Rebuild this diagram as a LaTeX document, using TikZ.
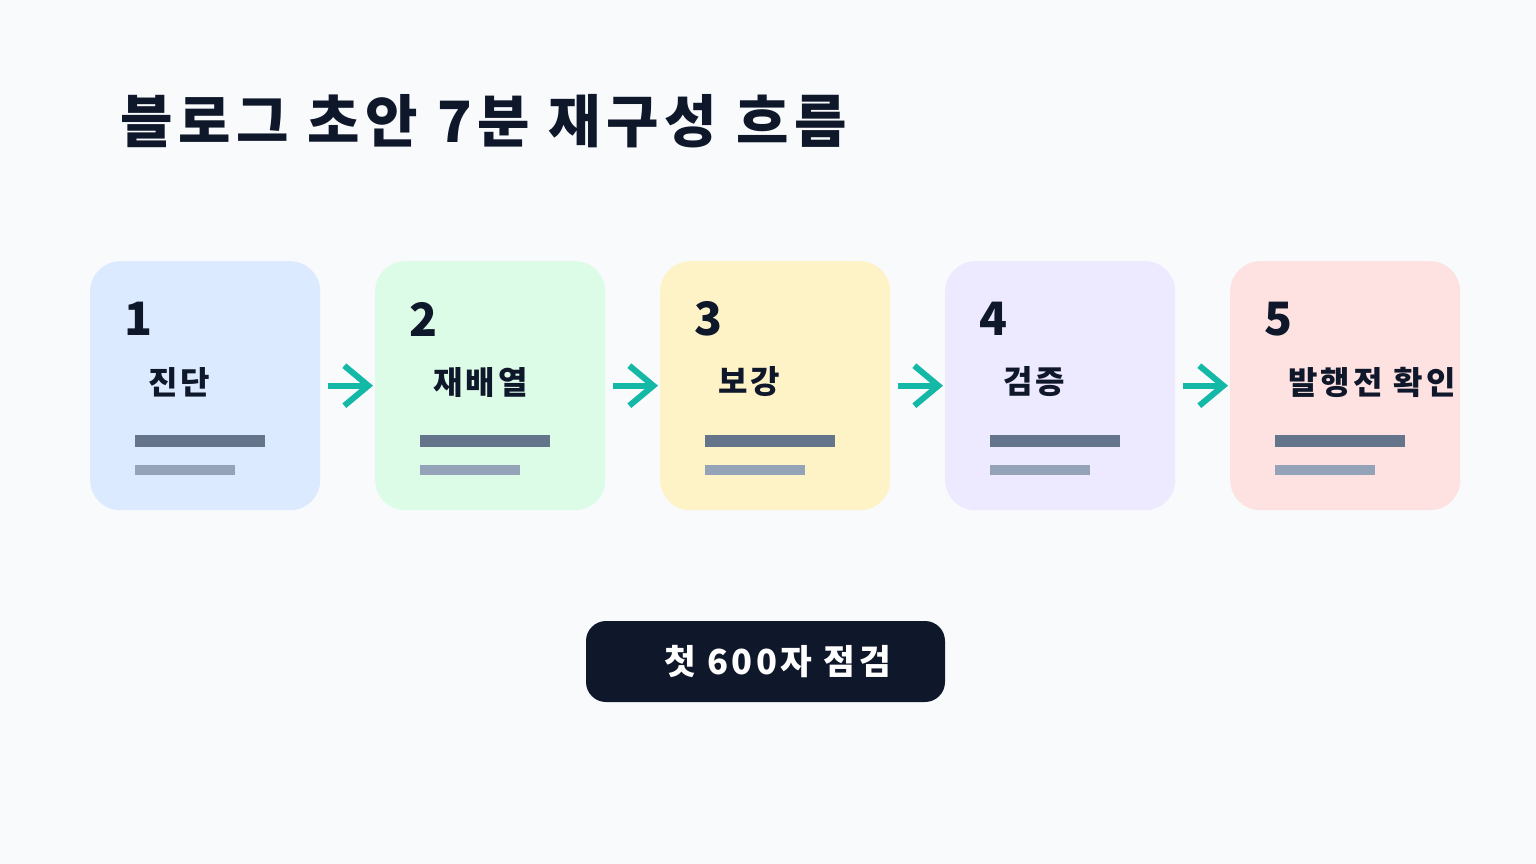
\documentclass[tikz,border=0pt]{standalone}
\usepackage{fontspec}
\setmainfont{Noto Sans CJK KR}
\newfontfamily\widefont[LetterSpace=10]{Noto Sans CJK KR}
\usepackage{xcolor}
\usepackage{tikz}
\usetikzlibrary{positioning,calc,arrows.meta}
\definecolor{pagebg}{HTML}{F8FAFC}
\definecolor{inkdark}{HTML}{0F172A}
\definecolor{flowteal}{HTML}{14B8A6}
\definecolor{barstrong}{HTML}{64748B}
\definecolor{barsoft}{HTML}{94A3B8}
\definecolor{cardblue}{HTML}{DBEAFE}
\definecolor{cardgreen}{HTML}{DCFCE7}
\definecolor{cardyellow}{HTML}{FEF3C7}
\definecolor{cardpurple}{HTML}{EDE9FE}
\definecolor{cardred}{HTML}{FEE2E2}

\begin{document}
\begin{tikzpicture}[x=1pt, y=-1pt,
    card/.style={rounded corners=30pt, minimum width=230pt, minimum height=249pt, inner sep=0pt},
    stepnum/.style={text=inkdark, font=\bfseries\fontsize{46}{50}\selectfont, inner sep=0pt},
    steplabel/.style={text=inkdark, font=\widefont\bfseries\fontsize{32}{34}\selectfont, inner sep=0pt},
    flow/.style={line width=6pt, draw=flowteal, -{Straight Barb[length=24pt, width=40pt]}},
    pill/.style={fill=inkdark, rounded corners=20pt, minimum width=359pt, minimum height=81pt,
                 text=white, font=\widefont\bfseries\fontsize{34.5}{38}\selectfont}]

%%% ---------- LIENZO ----------
\fill[pagebg] (0,0) rectangle (1536,864);
\useasboundingbox (0,0) rectangle (1536,864);

% Título
\node[anchor=west, inner sep=0pt, text=inkdark, font=\widefont\bfseries\fontsize{57}{60}\selectfont]
      (title) at (120,121) {블로그 초안 7분 재구성 흐름};

%%% ---------- TARJETAS ----------
\def\stepcard#1#2#3{
    \begin{scope}[shift={(90+#1*285, 261)}]
    % Caja
    \node[card, fill=#3, anchor=north west] (card#1) at (0,0) {};
    % Número y etiqueta
    \node[stepnum, anchor=west] (num#1) at (34,58) {\number\numexpr#1+1\relax};
    \node[steplabel, anchor=west] (label#1) at (58,121) {#2};
    % Barras
    \fill[barstrong] (45,174) rectangle (175,186);
    \fill[barsoft] (45,204) rectangle (145,214);
    \end{scope}
}

\stepcard{0}{진단}{cardblue}
\stepcard{1}{재배열}{cardgreen}
\stepcard{2}{보강}{cardyellow}
\stepcard{3}{검증}{cardpurple}
\stepcard{4}{발행전 확인}{cardred}

% Flechas
\foreach \i [evaluate=\i as \next using int(\i+1)] in {0,1,2,3} {
    \draw[flow, shorten <=8pt, shorten >=2pt] (card\i.east) -- (card\next.west);
}

%%% ---------- BOTÓN ----------
\node[pill] (check) at (765.5,661.5) {\hspace*{24pt}첫 600자 점검};

\end{tikzpicture}
\end{document}
